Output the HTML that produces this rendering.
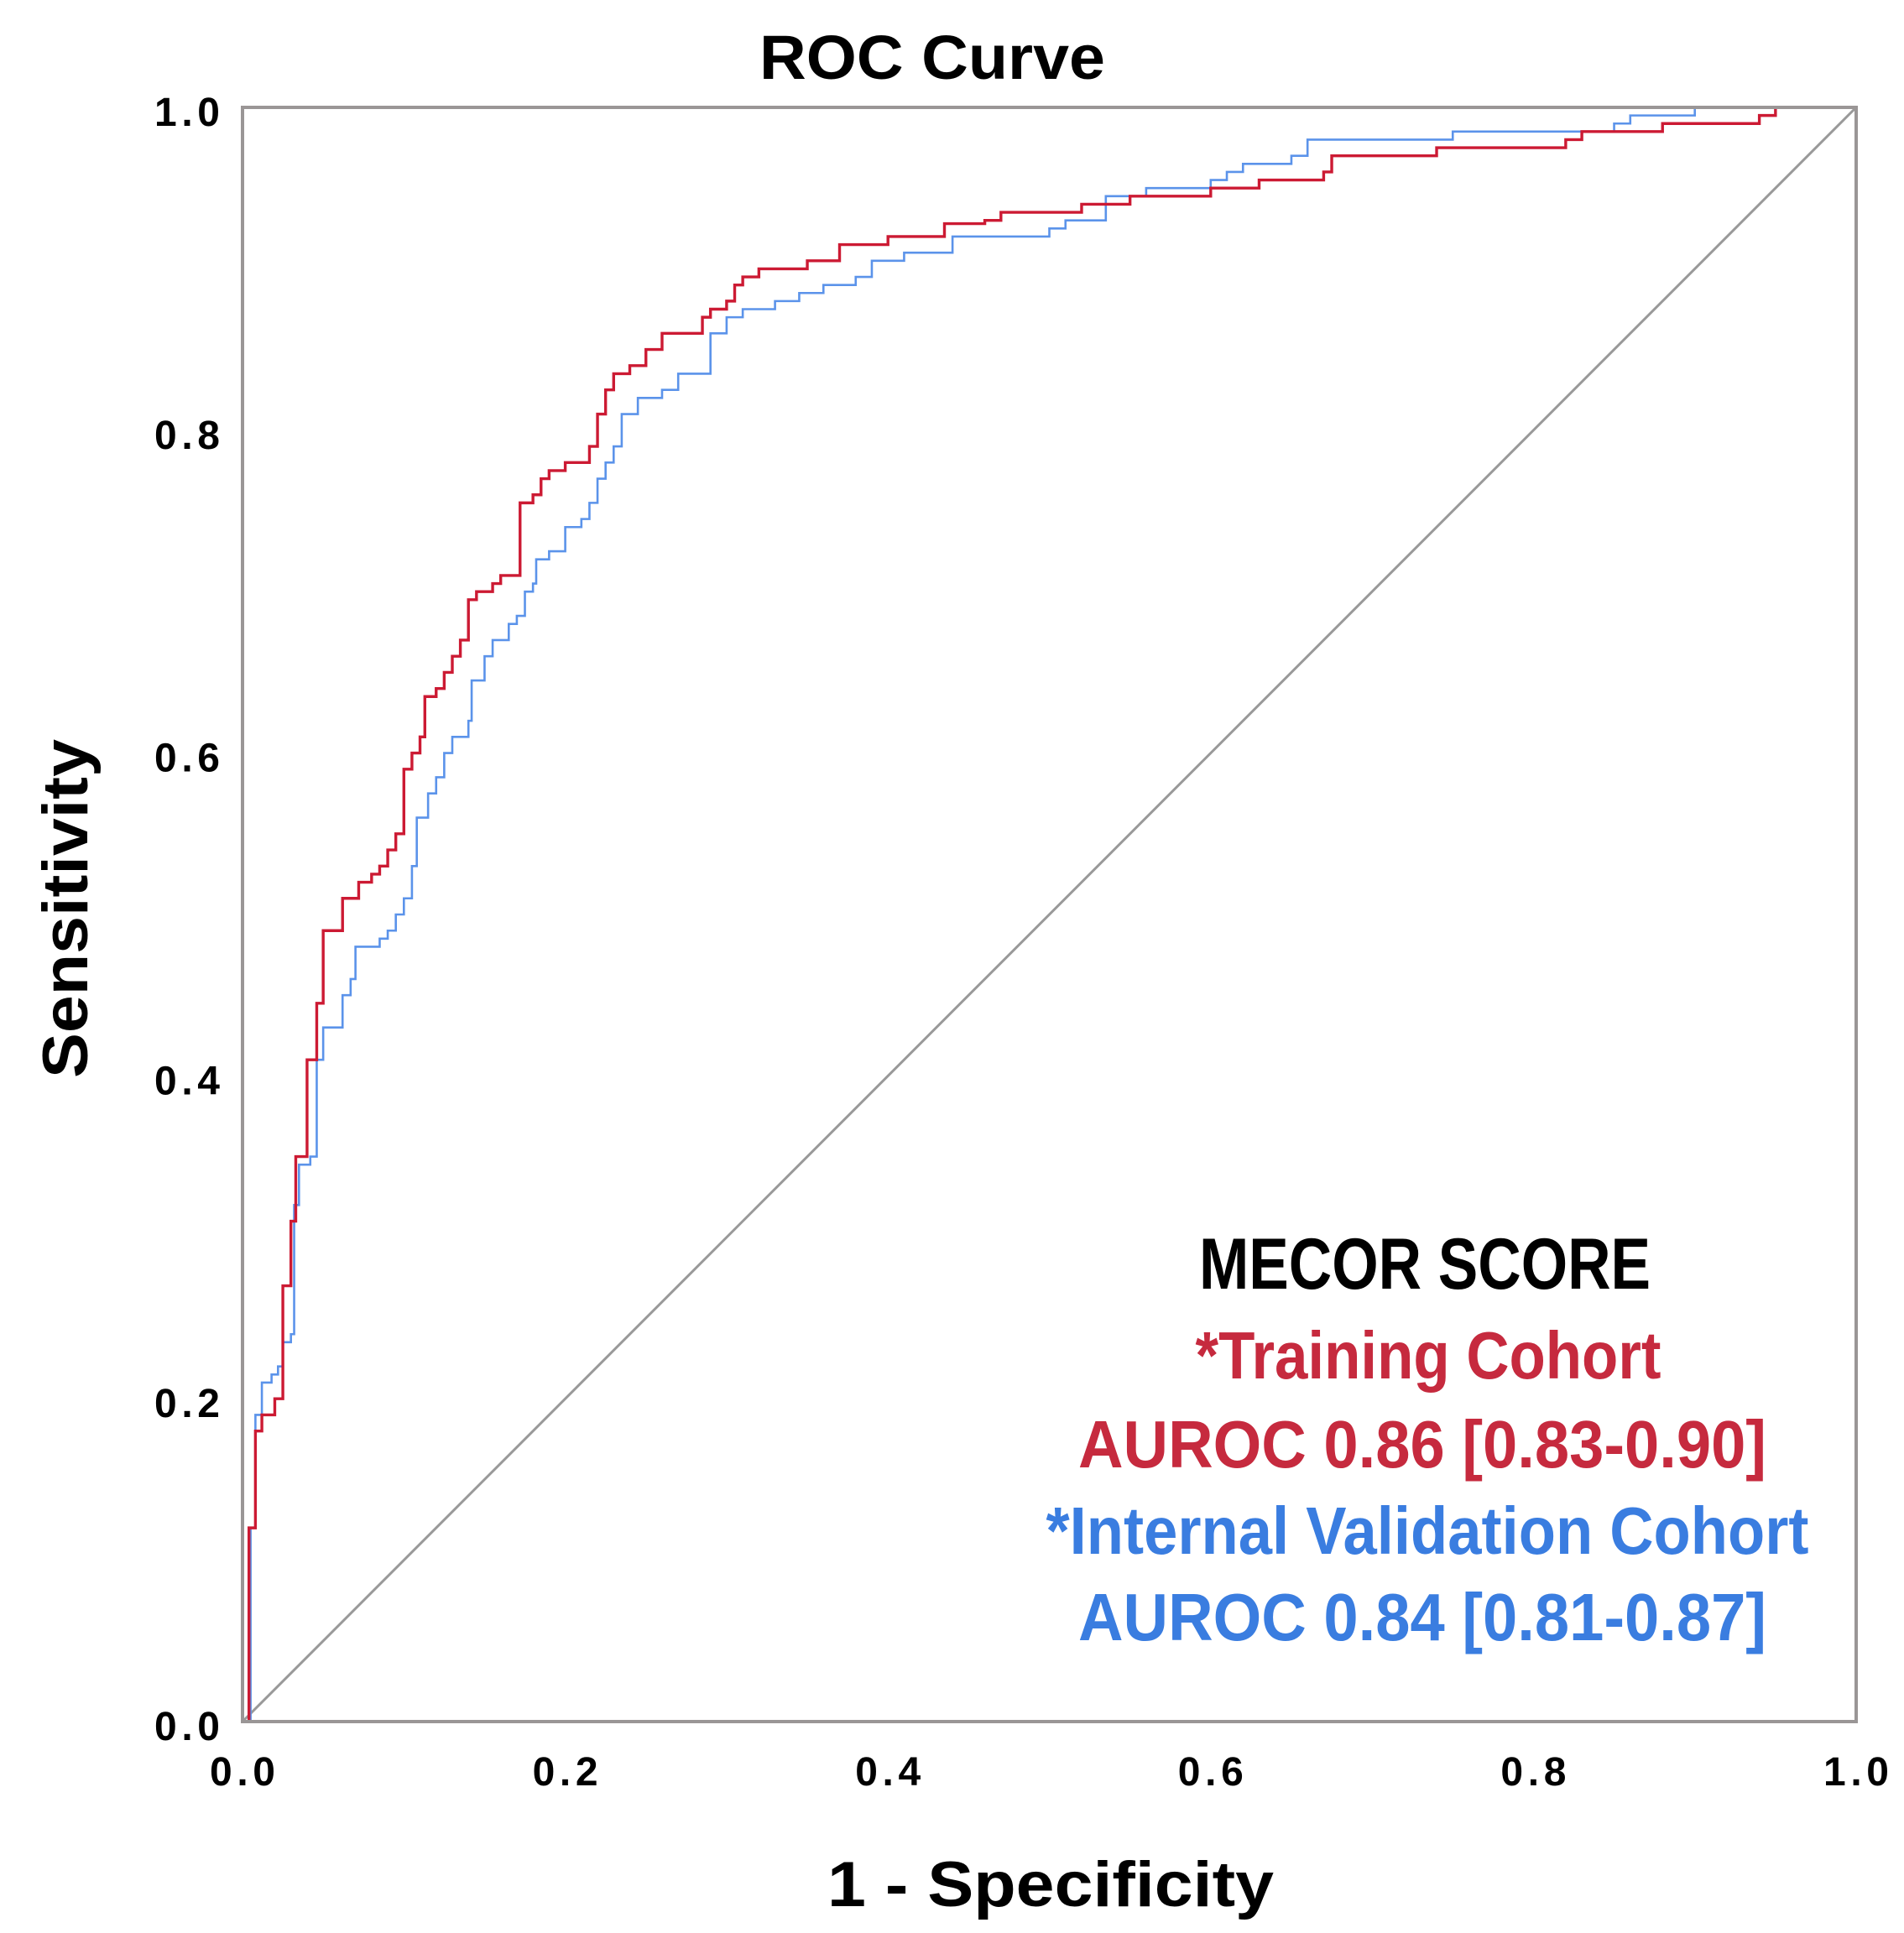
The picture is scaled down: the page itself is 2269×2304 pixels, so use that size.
<!DOCTYPE html>
<html><head><meta charset="utf-8"><style>
html,body{margin:0;padding:0;background:#fff;}
svg{display:block;}
text{font-family:"Liberation Sans",sans-serif;}
.leg{font-family:"Liberation Sans Narrow","Liberation Sans",sans-serif;font-weight:bold;}
</style></head><body>
<svg id="chart" width="2269" height="2304" viewBox="0 0 2269 2304" xmlns="http://www.w3.org/2000/svg">
<text x="1111" y="94" text-anchor="middle" font-size="74" font-weight="bold" textLength="412" lengthAdjust="spacingAndGlyphs">ROC Curve</text>
<g id="ticks"></g>
<line x1="289" y1="2052" x2="2212" y2="128" stroke="#999" stroke-width="3"/>
<g id="series"></g>
<rect x="289" y="128" width="1923" height="1924" fill="none" stroke="#9a9696" stroke-width="4"/>
<text x="1252" y="2272" text-anchor="middle" font-size="76" font-weight="bold" textLength="532" lengthAdjust="spacingAndGlyphs">1 - Specificity</text>
<text transform="translate(104,1083) rotate(-90)" text-anchor="middle" font-size="76" font-weight="bold" textLength="404" lengthAdjust="spacingAndGlyphs">Sensitivity</text>
<g>
<text class="leg" x="1698" y="1536" text-anchor="middle" font-size="86" textLength="538" lengthAdjust="spacingAndGlyphs" fill="#000">MECOR SCORE</text>
<text class="leg" x="1702" y="1643" text-anchor="middle" font-size="80" textLength="555" lengthAdjust="spacingAndGlyphs" fill="#c62a3e">*Training Cohort</text>
<text class="leg" x="1695" y="1749" text-anchor="middle" font-size="80" textLength="820" lengthAdjust="spacingAndGlyphs" fill="#c62a3e">AUROC 0.86 [0.83-0.90]</text>
<text class="leg" x="1701" y="1852" text-anchor="middle" font-size="80" textLength="909" lengthAdjust="spacingAndGlyphs" fill="#3a7de0">*Internal Validation Cohort</text>
<text class="leg" x="1695" y="1955" text-anchor="middle" font-size="80" textLength="820" lengthAdjust="spacingAndGlyphs" fill="#3a7de0">AUROC 0.84 [0.81-0.87]</text>
</g>
</svg>
<script>
const tickValues = [0, 0.2, 0.4, 0.6, 0.8, 1.0];
const tickLabels = ["0.0", "0.2", "0.4", "0.6", "0.8", "1.0"];
const trainFpr = [0,0.004,0.004,0.008,0.008,0.012,0.02,0.025,0.025,0.03,0.03,0.033,0.04,0.04,0.045,0.046,0.05,0.05,0.062,0.062,0.072,0.072,0.08,0.085,0.09,0.095,0.1,0.1,0.105,0.11,0.113,0.12,0.125,0.13,0.135,0.14,0.14,0.145,0.155,0.16,0.17,0.172,0.18,0.185,0.19,0.2,0.21,0.215,0.22,0.22,0.225,0.23,0.24,0.25,0.26,0.28,0.285,0.29,0.3,0.305,0.31,0.32,0.35,0.35,0.37,0.37,0.4,0.4,0.435,0.435,0.46,0.47,0.5,0.52,0.55,0.6,0.63,0.67,0.675,0.73,0.74,0.82,0.83,0.88,0.94,0.95,1];
const trainTpr = [0,0,0.12,0.12,0.18,0.19,0.2,0.2,0.27,0.27,0.31,0.35,0.355,0.41,0.41,0.445,0.45,0.49,0.49,0.51,0.51,0.52,0.525,0.53,0.54,0.55,0.56,0.59,0.6,0.61,0.635,0.64,0.65,0.66,0.67,0.67,0.695,0.7,0.705,0.71,0.71,0.755,0.76,0.77,0.775,0.78,0.78,0.79,0.795,0.81,0.825,0.835,0.84,0.85,0.86,0.86,0.87,0.875,0.88,0.89,0.895,0.9,0.9,0.905,0.905,0.915,0.915,0.92,0.92,0.928,0.93,0.935,0.935,0.94,0.945,0.95,0.955,0.96,0.97,0.97,0.975,0.98,0.985,0.99,0.995,1,1];
const validFpr = [0,0.005,0.005,0.008,0.008,0.012,0.018,0.022,0.025,0.03,0.032,0.032,0.035,0.042,0.045,0.046,0.05,0.06,0.062,0.067,0.07,0.085,0.09,0.095,0.1,0.105,0.108,0.115,0.12,0.125,0.13,0.14,0.142,0.15,0.155,0.165,0.17,0.175,0.18,0.182,0.19,0.2,0.21,0.215,0.22,0.225,0.23,0.235,0.245,0.26,0.27,0.28,0.29,0.3,0.31,0.33,0.345,0.36,0.38,0.39,0.41,0.44,0.44,0.5,0.51,0.535,0.535,0.56,0.6,0.61,0.62,0.65,0.66,0.75,0.75,0.85,0.86,0.9,1];
const validTpr = [0,0,0.12,0.12,0.19,0.21,0.215,0.22,0.235,0.24,0.24,0.32,0.345,0.35,0.35,0.41,0.43,0.43,0.45,0.46,0.48,0.485,0.49,0.5,0.51,0.53,0.56,0.575,0.585,0.6,0.61,0.62,0.645,0.66,0.67,0.68,0.685,0.7,0.705,0.72,0.725,0.74,0.745,0.755,0.77,0.78,0.79,0.81,0.82,0.825,0.835,0.835,0.86,0.87,0.875,0.88,0.885,0.89,0.895,0.905,0.91,0.91,0.92,0.925,0.93,0.93,0.945,0.95,0.955,0.96,0.965,0.97,0.98,0.98,0.985,0.99,0.995,1,1];

const X0 = 289, X1 = 2212, Y0 = 2052, Y1 = 128;
function xScale(v){ return X0 + v * (X1 - X0); }
function yScale(v){ return Y0 - v * (Y0 - Y1); }
const NS = "http://www.w3.org/2000/svg";

const ticks = document.getElementById('ticks');
tickValues.forEach(function(v, i){
  const ty = document.createElementNS(NS, 'text');
  
  
  ty.setAttribute('x', 262);
  ty.setAttribute('y', yScale(v) + 22);
  ty.setAttribute('text-anchor', 'end');
  ty.setAttribute('font-size', '48');
  ty.setAttribute('font-weight', 'bold');
  ty.setAttribute('textLength', '78');
  ty.setAttribute('lengthAdjust', 'spacing');
  ty.textContent = tickLabels[i];
  ticks.appendChild(ty);
  const tx = document.createElementNS(NS, 'text');
  
  
  tx.setAttribute('x', xScale(v));
  tx.setAttribute('y', 2128);
  tx.setAttribute('text-anchor', 'middle');
  tx.setAttribute('font-size', '48');
  tx.setAttribute('font-weight', 'bold');
  tx.setAttribute('textLength', '78');
  tx.setAttribute('lengthAdjust', 'spacing');
  tx.textContent = tickLabels[i];
  ticks.appendChild(tx);
});

function stepPath(fx, ty){
  let d = 'M' + xScale(fx[0]) + ' ' + yScale(ty[0]);
  for (let i = 1; i < fx.length; i++){
    d += ' H' + xScale(fx[i]) + ' V' + yScale(ty[i]);
  }
  return d;
}
const series = document.getElementById('series');
const pv = document.createElementNS(NS, 'path');


pv.setAttribute('d', stepPath(validFpr, validTpr));
pv.setAttribute('fill', 'none');
pv.setAttribute('stroke', '#5b93ea');
pv.setAttribute('stroke-width', '2.6');
series.appendChild(pv);
const pt = document.createElementNS(NS, 'path');


pt.setAttribute('d', stepPath(trainFpr, trainTpr));
pt.setAttribute('fill', 'none');
pt.setAttribute('stroke', '#cc1a33');
pt.setAttribute('stroke-width', '3.4');
series.appendChild(pt);
</script>
</body></html>
